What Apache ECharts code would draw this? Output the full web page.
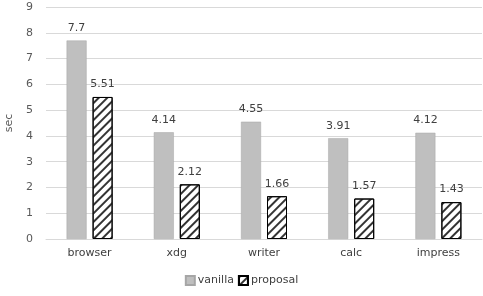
<!DOCTYPE html>
<html>
<head>
<meta charset="utf-8">
<script src="https://cdn.jsdelivr.net/npm/echarts@6/dist/echarts.min.js"></script>
<style>
    html, body { margin: 0; padding: 0; background: #fff; }
    #main { width: 483px; height: 296px; }
</style>
</head>
<body>
<div id="main"></div>
<script>
var categories = ['browser', 'xdg', 'writer', 'calc', 'impress'];
var vanilla = [7.7, 4.14, 4.55, 3.91, 4.12];
var proposal = [5.51, 2.12, 1.66, 1.57, 1.43];
var yTicks = [0, 9, 1];

~function () {
    var myChart = echarts.init(document.getElementById('main'));
    var labelStyle = {
        show: true,
        position: 'top',
        distance: 7,
        color: '#404040',
        fontSize: 11,
        fontFamily: 'DejaVu Sans'
    };
    var option = {
        animation: false,
        textStyle: {fontFamily: 'DejaVu Sans'},
        legend: {
            bottom: 5,
            left: 'center',
            icon: 'rect',
            itemWidth: 9,
            itemHeight: 9,
            itemGap: 4,
            textStyle: {color: '#404040', fontSize: 11, padding: [0, 0, 0, -2]},
            data: ['vanilla', 'proposal']
        },
        grid: {
            left: 46,
            right: 1,
            top: 7,
            bottom: 57,
            containLabel: false,
            outerBoundsMode: 'none'
        },
        xAxis: {
            type: 'category',
            data: categories,
            axisLine: {lineStyle: {color: '#d9d9d9'}},
            axisTick: {show: false},
            axisLabel: {color: '#404040', fontSize: 11, margin: 9}
        },
        yAxis: {
            type: 'value',
            min: yTicks[0],
            max: yTicks[1],
            interval: yTicks[2],
            name: 'sec',
            nameLocation: 'middle',
            nameGap: 31,
            nameRotate: 90,
            nameTextStyle: {color: '#595959', fontSize: 11},
            axisLine: {show: false},
            axisTick: {show: false},
            axisLabel: {color: '#595959', fontSize: 11, margin: 13},
            splitLine: {lineStyle: {color: '#d9d9d9'}}
        },
        series: [
            {
                name: 'vanilla',
                type: 'bar',
                barWidth: 20,
                barGap: '30%',
                itemStyle: {color: '#bfbfbf', borderColor: '#a6a6a6', borderWidth: 0.5},
                label: labelStyle,
                data: vanilla
            },
            {
                name: 'proposal',
                type: 'bar',
                barWidth: 20,
                barGap: '30%',
                itemStyle: {
                    color: '#ffffff',
                    borderColor: '#000000',
                    borderWidth: 1,
                    decal: {
                        symbol: 'rect',
                        color: '#333333',
                        dashArrayX: [1, 0],
                        dashArrayY: [1.5, 4],
                        rotation: -Math.PI / 4
                    }
                },
                label: labelStyle,
                data: proposal
            }
        ]
    };
    myChart.setOption(option);
}();
</script>
</body>
</html>
